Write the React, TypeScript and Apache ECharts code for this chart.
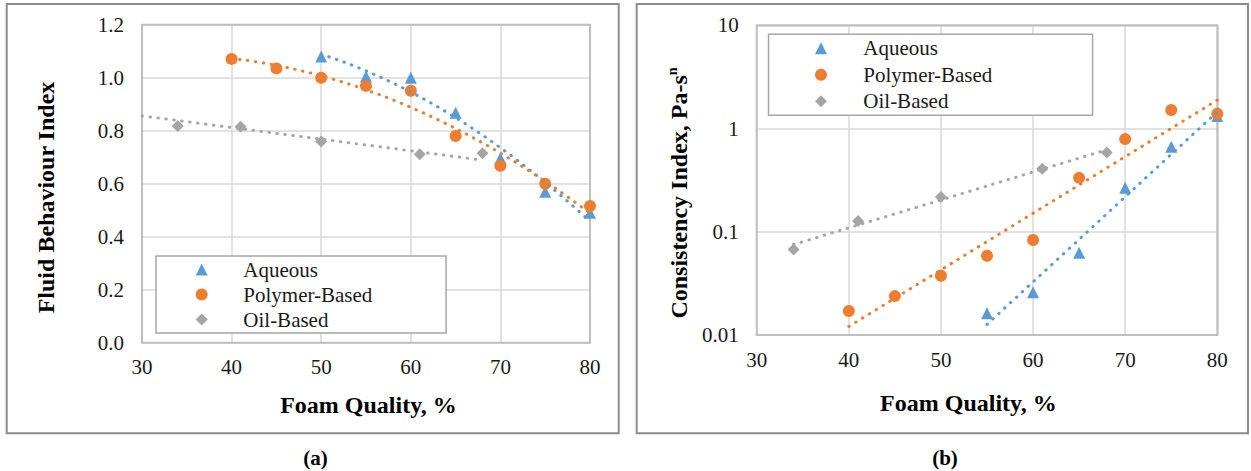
import React, { useEffect, useRef } from "react";
import * as echarts from "echarts";

// ---------- data ----------
const xTicks = [30, 40, 50, 60, 70, 80];

// (a) Fluid behaviour index
const aqueousA_x = [50, 55, 60, 65, 70, 75, 80];
const aqueousA_y = [1.08, 1.005, 1.0, 0.868, 0.696, 0.57, 0.49];
const polymerA_x = [40, 45, 50, 55, 60, 65, 70, 75, 80];
const polymerA_y = [1.071, 1.035, 1.0, 0.969, 0.951, 0.78, 0.668, 0.6, 0.516];
const oilA_x = [34, 41, 50, 61, 68];
const oilA_y = [0.818, 0.815, 0.759, 0.711, 0.715];
// linear trendline of the oil-based series as drawn (start / end)
const oilTrendA_x = [30, 68];
const oilTrendA_y = [0.856, 0.689];

// (b) Consistency index
const aqueousB_x = [55, 60, 65, 70, 75, 80];
const aqueousB_y = [0.0162, 0.0259, 0.0627, 0.267, 0.667, 1.32];
const polymerB_x = [40, 45, 50, 55, 60, 65, 70, 75, 80];
const polymerB_y = [0.0171, 0.0238, 0.0375, 0.0585, 0.0832, 0.333, 0.79, 1.51, 1.39];
const oilB_x = [34, 41, 50, 61, 68];
const oilB_y = [0.0675, 0.127, 0.217, 0.408, 0.587];

const seriesNames = ["Aqueous", "Polymer-Based", "Oil-Based"];
const colors = ["#5b9bd5", "#ed7d31", "#a5a5a5"];
const symbols = ["triangle", "circle", "diamond"];

// ---------- helpers ----------
const zip = (xs: number[], ys: number[]) => xs.map((x, i) => [x, ys[i]]);

function polyFit2(xs: number[], ys: number[]) {
  const n = xs.length;
  const m = xs.reduce((a, b) => a + b, 0) / n;
  let s1 = 0, s2 = 0, s3 = 0, s4 = 0, t0 = 0, t1 = 0, t2 = 0;
  for (let i = 0; i < n; i++) {
    const u = xs[i] - m, y = ys[i];
    s1 += u; s2 += u * u; s3 += u * u * u; s4 += u * u * u * u;
    t0 += y; t1 += u * y; t2 += u * u * y;
  }
  const A = [[n, s1, s2], [s1, s2, s3], [s2, s3, s4]];
  const B = [t0, t1, t2];
  const det = (M: number[][]) =>
    M[0][0] * (M[1][1] * M[2][2] - M[1][2] * M[2][1]) -
    M[0][1] * (M[1][0] * M[2][2] - M[1][2] * M[2][0]) +
    M[0][2] * (M[1][0] * M[2][1] - M[1][1] * M[2][0]);
  const D = det(A);
  const coef = [0, 1, 2].map((k) => {
    const Mk = A.map((row, r) => row.map((v, c) => (c === k ? B[r] : v)));
    return det(Mk) / D;
  });
  return (x: number) => coef[0] + coef[1] * (x - m) + coef[2] * (x - m) * (x - m);
}

function expFit(xs: number[], ys: number[]) {
  const n = xs.length;
  const ly = ys.map((v) => Math.log10(v));
  const mx = xs.reduce((a, b) => a + b, 0) / n;
  const my = ly.reduce((a, b) => a + b, 0) / n;
  let sxx = 0, sxy = 0;
  for (let i = 0; i < n; i++) {
    sxx += (xs[i] - mx) ** 2;
    sxy += (xs[i] - mx) * (ly[i] - my);
  }
  const b = sxy / sxx;
  return (x: number) => Math.pow(10, my + b * (x - mx));
}

function sampleCurve(f: (x: number) => number, x0: number, x1: number, step: number) {
  const pts: number[][] = [];
  for (let x = x0; x <= x1 + 1e-9; x += step) pts.push([x, f(x)]);
  return pts;
}

const FONT = "Liberation Serif, Times New Roman, serif";
const TXT = "#1a1a1a";

function scatter(name: string, idx: number, k: number, data: number[][]) {
  return {
    type: "scatter",
    name,
    xAxisIndex: idx,
    yAxisIndex: idx,
    symbol: symbols[k],
    symbolSize: 12,
    itemStyle: { color: colors[k], opacity: 1 },
    data,
    z: 2,
    silent: true,
  };
}

function trend(name: string, idx: number, k: number, data: number[][]) {
  return {
    type: "line",
    name,
    xAxisIndex: idx,
    yAxisIndex: idx,
    showSymbol: false,
    symbol: "none",
    data,
    lineStyle: { color: colors[k], width: 3, type: [0.5, 7.5], cap: "round" },
    z: 3,
    silent: true,
  };
}

function legendOpt(left: number, top: number, padding: number[], textPadLeft: number, itemGap: number) {
  return {
    show: true,
    orient: "vertical",
    left,
    top,
    itemWidth: 12,
    itemHeight: 12,
    symbolKeepAspect: true,
    itemGap,
    padding,
    selectedMode: false,
    borderColor: "#a6a6a6",
    borderWidth: 1.5,
    borderRadius: 0,
    backgroundColor: "#ffffff",
    textStyle: {
      fontFamily: FONT,
      fontSize: 21,
      color: TXT,
      lineHeight: 20,
      padding: [0, 0, 0, textPadLeft],
    },
    data: seriesNames.map((n, k) => ({ name: n, icon: symbols[k] })),
  };
}

function xAxisOpt(gridIndex: number) {
  return {
    type: "value",
    gridIndex,
    min: xTicks[0],
    max: xTicks[xTicks.length - 1],
    interval: 10,
    axisLine: { show: false },
    axisTick: { show: false },
    splitLine: { show: true, lineStyle: { color: "#d9d9d9", width: 1.5 } },
    axisLabel: { fontFamily: FONT, fontSize: 21, color: TXT, margin: 14 },
  };
}

export default function App() {
  const ref = useRef<HTMLDivElement>(null);

  useEffect(() => {
    if (!ref.current) return;
    const chart = echarts.init(ref.current, null, { renderer: "svg" });

    const fAqA = polyFit2(aqueousA_x, aqueousA_y);
    const fPoA = polyFit2(polymerA_x, polymerA_y);
    const fAqB = expFit(aqueousB_x, aqueousB_y);
    const fPoB = expFit(polymerB_x, polymerB_y);
    const fOiB = expFit(oilB_x, oilB_y);

    const option: any = {
      animation: false,
      backgroundColor: "#ffffff",
      grid: [
        { left: 142, top: 24.7, width: 448, height: 318, show: true, borderColor: "#bfbfbf", borderWidth: 2, backgroundColor: "transparent", z: 1, containLabel: false, outerBoundsMode: "none" },
        { left: 756.7, top: 25.3, width: 460.6, height: 309.7, show: true, borderColor: "#bfbfbf", borderWidth: 2, backgroundColor: "transparent", z: 1, containLabel: false, outerBoundsMode: "none" },
      ],
      xAxis: [xAxisOpt(0), xAxisOpt(1)],
      yAxis: [
        {
          type: "value",
          gridIndex: 0,
          min: 0,
          max: 1.2,
          interval: 0.2,
          axisLine: { show: false },
          axisTick: { show: false },
          splitLine: { show: true, lineStyle: { color: "#d9d9d9", width: 1.5 } },
          axisLabel: { fontFamily: FONT, fontSize: 21, color: TXT, margin: 18, formatter: (v: number) => v.toFixed(1) },
        },
        {
          type: "log",
          logBase: 10,
          gridIndex: 1,
          min: 0.01,
          max: 10,
          axisLine: { show: false },
          axisTick: { show: false },
          minorSplitLine: { show: false },
          splitLine: { show: true, lineStyle: { color: "#d9d9d9", width: 1.5 } },
          axisLabel: {
            fontFamily: FONT,
            fontSize: 21,
            color: TXT,
            margin: 18,
            formatter: (v: number) => {
              const e = Math.round(Math.log10(v));
              return e >= 0 ? String(Math.pow(10, e)) : Math.pow(10, e).toFixed(-e);
            },
          },
        },
      ],
      legend: [
        legendOpt(156, 256, [3, 73.7, 3, 39.7], 30.6, 4),
        legendOpt(768.5, 34.3, [3.5, 100.2, 3.5, 46.5], 31.3, 5.5),
      ],
      graphic: [
        { type: "rect", shape: { x: 6.7, y: 4, width: 612, height: 429.3 }, style: { fill: "none", stroke: "#8c8c8c", lineWidth: 2 }, silent: true },
        { type: "rect", shape: { x: 636.7, y: 4, width: 611.3, height: 429.3 }, style: { fill: "none", stroke: "#8c8c8c", lineWidth: 2 }, silent: true },
        { type: "text", x: 368.5, y: 405, style: { text: "Foam Quality, %", fontFamily: FONT, fontSize: 24, fontWeight: "bold", fill: "#000", align: "center", verticalAlign: "middle" }, silent: true },
        { type: "text", x: 968.4, y: 403, style: { text: "Foam Quality, %", fontFamily: FONT, fontSize: 24, fontWeight: "bold", fill: "#000", align: "center", verticalAlign: "middle" }, silent: true },
        { type: "text", x: 46, y: 197.5, rotation: Math.PI / 2, style: { text: "Fluid Behaviour Index", fontFamily: FONT, fontSize: 24, fontWeight: "bold", fill: "#000", align: "center", verticalAlign: "middle" }, silent: true },
        {
          type: "text",
          x: 678,
          y: 193,
          rotation: Math.PI / 2,
          style: {
            text: "{a|Consistency Index, Pa-s}{b|n}",
            align: "center",
            verticalAlign: "middle",
            rich: {
              a: { fontFamily: FONT, fontSize: 24, fontWeight: "bold", fill: "#000", lineHeight: 26, verticalAlign: "bottom" },
              b: { fontFamily: FONT, fontSize: 14, fontWeight: "bold", fill: "#000", lineHeight: 26, verticalAlign: "top" },
            },
          },
          silent: true,
        },
        { type: "text", x: 315.5, y: 458, style: { text: "(a)", fontFamily: FONT, fontSize: 21, fontWeight: "bold", fill: "#000", align: "center", verticalAlign: "middle" }, silent: true },
        { type: "text", x: 945, y: 458, style: { text: "(b)", fontFamily: FONT, fontSize: 21, fontWeight: "bold", fill: "#000", align: "center", verticalAlign: "middle" }, silent: true },
      ],
      series: [
        scatter("Aqueous", 0, 0, zip(aqueousA_x, aqueousA_y)),
        scatter("Polymer-Based", 0, 1, zip(polymerA_x, polymerA_y)),
        scatter("Oil-Based", 0, 2, zip(oilA_x, oilA_y)),
        trend("Aqueous trend (a)", 0, 0, sampleCurve(fAqA, aqueousA_x[0], aqueousA_x[aqueousA_x.length - 1], 0.5)),
        trend("Polymer trend (a)", 0, 1, sampleCurve(fPoA, polymerA_x[0], polymerA_x[polymerA_x.length - 1], 0.5)),
        trend("Oil trend (a)", 0, 2, zip(oilTrendA_x, oilTrendA_y)),
        scatter("Aqueous", 1, 0, zip(aqueousB_x, aqueousB_y)),
        scatter("Polymer-Based", 1, 1, zip(polymerB_x, polymerB_y)),
        scatter("Oil-Based", 1, 2, zip(oilB_x, oilB_y)),
        trend("Aqueous trend (b)", 1, 0, [aqueousB_x[0], aqueousB_x[aqueousB_x.length - 1]].map((x) => [x, fAqB(x)])),
        trend("Polymer trend (b)", 1, 1, [polymerB_x[0], polymerB_x[polymerB_x.length - 1]].map((x) => [x, fPoB(x)])),
        trend("Oil trend (b)", 1, 2, [oilB_x[0], oilB_x[oilB_x.length - 1]].map((x) => [x, fOiB(x)])),
      ],
    };

    chart.setOption(option);
    return () => chart.dispose();
  }, []);

  return (
    <div
      ref={ref}
      style={{ position: "absolute", left: 0, top: 0, width: 1251, height: 471, background: "#fff" }}
    />
  );
}
